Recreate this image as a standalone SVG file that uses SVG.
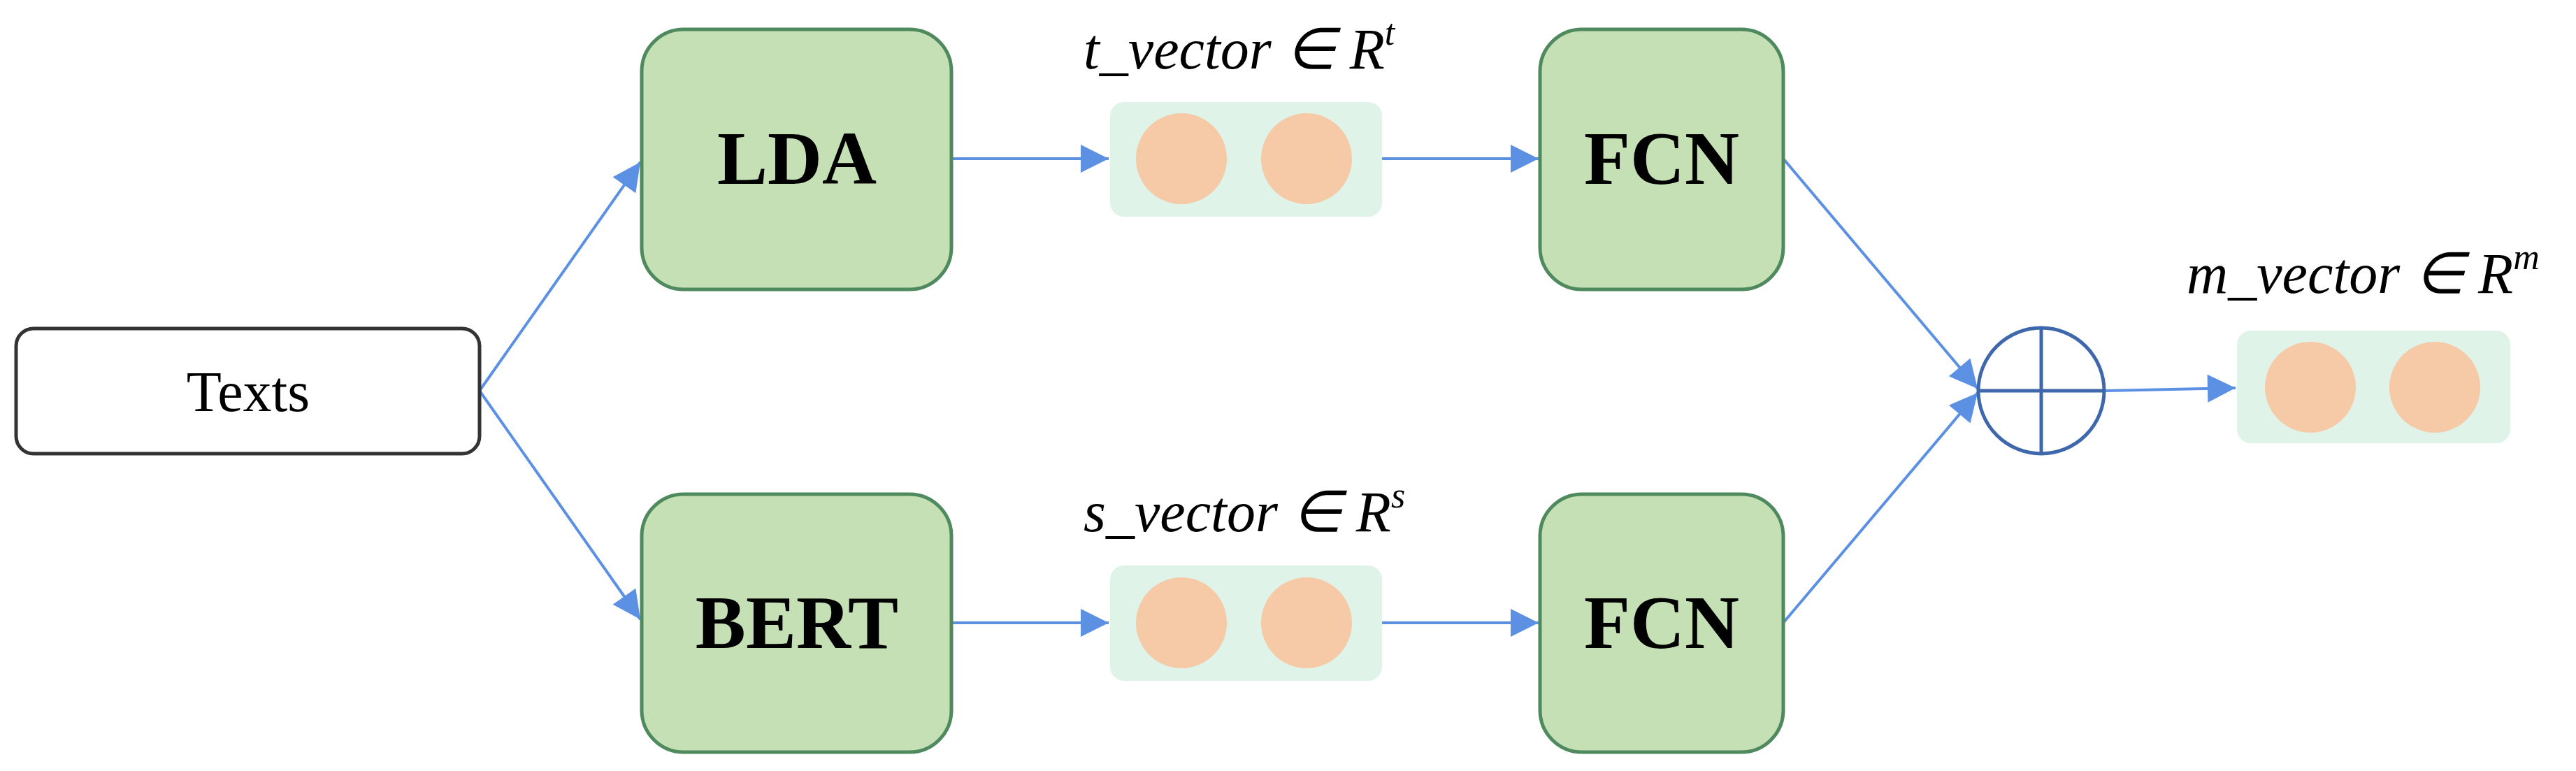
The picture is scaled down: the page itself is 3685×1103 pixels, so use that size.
<svg xmlns="http://www.w3.org/2000/svg" width="3685" height="1103" viewBox="0 0 3685 1103">
<style>
.g{fill:#c5e0b4;stroke:#4f8a5f;stroke-width:5}
.vb{fill:#dff3e9}
.c{fill:#f6c9a7}
.b{font-family:"Liberation Serif",serif;font-weight:bold;font-size:108px;text-anchor:middle}
.l{font-family:"Liberation Serif",serif;font-style:italic;font-size:82px}
.e{stroke:#5b90e2;stroke-width:4;fill:none;marker-end:url(#a)}
</style>
<defs><marker id="a" markerWidth="12" markerHeight="10" refX="11" refY="5" orient="auto" markerUnits="userSpaceOnUse" viewBox="0 0 12 10"><path d="M0,0L12,5L0,10z" fill="#5b90e2" transform="scale(1)"/></marker>
<marker id="a2" viewBox="0 0 10 10" refX="10" refY="5" markerWidth="50" markerHeight="40" markerUnits="userSpaceOnUse" orient="auto"><path d="M0,0L10,5L0,10z" fill="#5b90e2"/></marker></defs>
<rect width="3685" height="1103" fill="#fff"/>
<g id="connectors" class="e" style="marker-end:url(#a2)">
<path d="M686,559L916,232"/>
<path d="M686,559L916,886"/>
<path d="M1361,227L1586,227"/>
<path d="M1361,891L1586,891"/>
<path d="M1977,227L2201,227"/>
<path d="M1977,891L2201,891"/>
<path d="M2551,227L2829,556"/>
<path d="M2551,891L2829,562"/>
<path d="M3010,559L3198,555"/>
</g>
<g id="texts"><rect x="23" y="470" width="663" height="179" rx="25" fill="#fff" stroke="#333" stroke-width="5"/><text x="355" y="588" font-family="Liberation Serif,serif" font-size="82" text-anchor="middle">Texts</text></g>
<g id="lda"><rect class="g" x="918" y="42" width="443" height="372" rx="60"/><text class="b" x="1140" y="263">LDA</text></g>
<g id="bert"><rect class="g" x="918" y="707" width="443" height="369" rx="60"/><text class="b" x="1140" y="927">BERT</text></g>
<g id="fcn1"><rect class="g" x="2203" y="42" width="348" height="372" rx="60"/><text class="b" x="2377" y="263">FCN</text></g>
<g id="fcn2"><rect class="g" x="2203" y="707" width="348" height="369" rx="60"/><text class="b" x="2377" y="927">FCN</text></g>
<g id="tvec"><text class="l" x="1550" y="98">t_vector ∈ R<tspan font-size="52" dy="-34">t</tspan></text><rect class="vb" x="1588" y="146" width="389" height="164" rx="20"/><circle class="c" cx="1690" cy="227" r="65"/><circle class="c" cx="1869" cy="227" r="65"/></g>
<g id="svec"><text class="l" x="1550" y="760">s_vector ∈ R<tspan font-size="52" dy="-34">s</tspan></text><rect class="vb" x="1588" y="809" width="389" height="165" rx="20"/><circle class="c" cx="1690" cy="891" r="65"/><circle class="c" cx="1869" cy="891" r="65"/></g>
<g id="plus" fill="none" stroke="#3e68ab" stroke-width="5"><circle cx="2920" cy="559" r="90"/><path d="M2830,559H3010M2920,469V649"/></g>
<g id="mvec"><text class="l" x="3128" y="419">m_vector ∈ R<tspan font-size="52" dy="-34">m</tspan></text><rect class="vb" x="3200" y="473" width="391" height="161" rx="20"/><circle class="c" cx="3305" cy="554" r="65"/><circle class="c" cx="3483" cy="554" r="65"/></g>
</svg>
